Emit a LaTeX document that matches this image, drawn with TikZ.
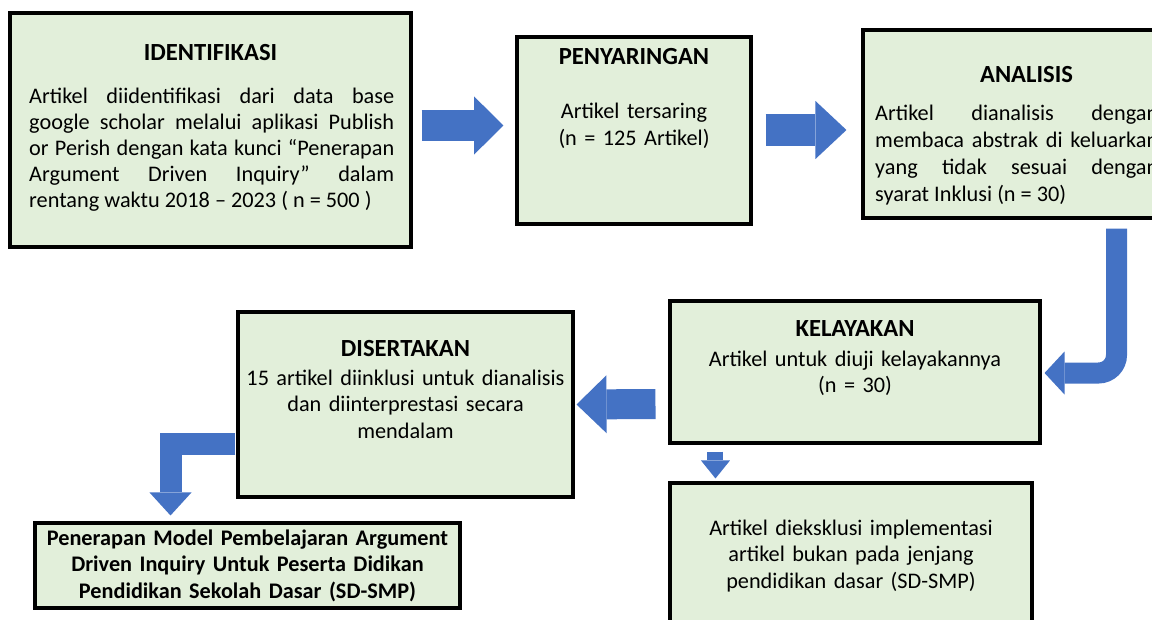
\documentclass[tikz,border=0pt]{standalone}
\usepackage{fontspec}
\setmainfont{Carlito}
\usepackage{tikz}
\usetikzlibrary{arrows.meta, calc, positioning}
\definecolor{kotakhijau}{HTML}{E2EFDA}
\definecolor{panahbiru}{HTML}{4472C4}

\begin{document}
\begin{tikzpicture}[x=0.03cm, y=-0.03cm,
  kotak/.style 2 args={draw=black, line width=2.6pt, fill=kotakhijau, inner sep=0pt,
    minimum width=#1*0.03cm, minimum height=#2*0.03cm},
  judul/.style={font=\fontsize{21}{25}\selectfont\bfseries, inner sep=0pt, anchor=base},
  isi/.style={font=\fontsize{19}{22.8}\selectfont, inner sep=0pt, text width=#1*0.03cm},
  panah/.style n args={3}{draw=panahbiru, line width=#1,
    -{Triangle[width=#2, length=#3, line width=0pt]}}]

% Batas gambar
\useasboundingbox (0,0) rectangle (1152,620);
\clip (0,0) rectangle (1152,620);

% Kotak
\node[kotak={401}{234}] (ident) at (210.5,130) {};
\node[kotak={234}{187}] (saring) at (634,130.5) {};
\node[kotak={327}{188}] (analisis) at (1026.5,124) {};
\node[kotak={370}{142}] (layak) at (855,372) {};
\node[kotak={335}{185}] (sertakan) at (405.5,404.5) {};
\node[kotak={425}{85}] (hasil) at (247.5,565.5) {};
\node[kotak={362}{167}] (eksklusi) at (851,566.5) {};

% Judul
\node[judul] (ident-judul) at (210.5,61) {IDENTIFIKASI};
\node[judul] (saring-judul) at (634,65) {PENYARINGAN};
\node[judul] (analisis-judul) at (1026.5,83) {ANALISIS};
\node[judul] (layak-judul) at (855,336) {KELAYAKAN};
\node[judul] (sertakan-judul) at (405.5,356) {DISERTAKAN};

% Isi kotak
\node[isi=365, align=justify, anchor=base west, font=\fontsize{19}{22}\selectfont] (ident-isi) at (29,104)
  {Artikel diidentifikasi dari data base\linebreak
   google scholar melalui aplikasi Publish\linebreak
   or Perish dengan kata kunci “Penerapan\linebreak
   Argument Driven Inquiry” dalam\linebreak
   \mbox{rentang waktu 2018 -- 2023 ( n = 500 )}};
\node[isi=230, align=center, anchor=base] (saring-isi) at (634,119)
  {Artikel tersaring\\(n = 125 Artikel)};
\node[isi=283, align=justify, anchor=base west] (analisis-isi) at (875,121)
  {Artikel dianalisis dengan\linebreak
   membaca abstrak di keluarkan\linebreak
   yang tidak sesuai dengan\linebreak
   syarat Inklusi (n = 30)};
\node[isi=360, align=center, anchor=base] (layak-isi) at (855,366)
  {Artikel untuk diuji kelayakannya\\(n = 30)};
\node[isi=360, align=center, anchor=base] (sertakan-isi) at (405.5,385)
  {15 artikel diinklusi untuk dianalisis\\dan diinterprestasi secara\\mendalam};
\node[isi=440, align=center, anchor=base, font=\fontsize{19}{22.8}\selectfont\bfseries] (hasil-isi) at (247.5,545)
  {Penerapan Model Pembelajaran Argument\\Driven Inquiry Untuk Peserta Didikan\\Pendidikan Sekolah Dasar (SD-SMP)};
\node[isi=360, align=center, anchor=base] (eksklusi-isi) at (851,535)
  {Artikel dieksklusi implementasi\\artikel bukan pada jenjang\\pendidikan dasar (SD-SMP)};

% Panah
\draw[panah={0.9cm}{1.74cm}{0.88cm}] ($(ident.east)+(9,-4.5)$) -- ($(saring.west)+(-12,-5)$);
\draw[panah={0.98cm}{1.74cm}{0.93cm}] ($(saring.east)+(13,-0.5)$) -- ($(analisis.west)+(-15,6)$);
\draw[panah={0.63cm}{1.29cm}{0.6cm}, rounded corners=0.54cm] ($(analisis.south)+(90,9)$) |- ($(layak.east)+(3,1)$);
\draw[panah={0.9cm}{1.74cm}{0.9cm}] ($(layak.west)+(-13,32)$) -- ($(sertakan.east)+(2,0)$);
\draw[panah={0.66cm}{1.26cm}{0.69cm}] ($(sertakan.west)+(-1,39.5)$) -| ($(hasil.north)+(-77,-6)$);
\draw[panah={0.48cm}{0.87cm}{0.54cm}] ($(layak.south west)+(47,7)$) -- ($(eksklusi.north west)+(47,-3)$);

\end{tikzpicture}
\end{document}
